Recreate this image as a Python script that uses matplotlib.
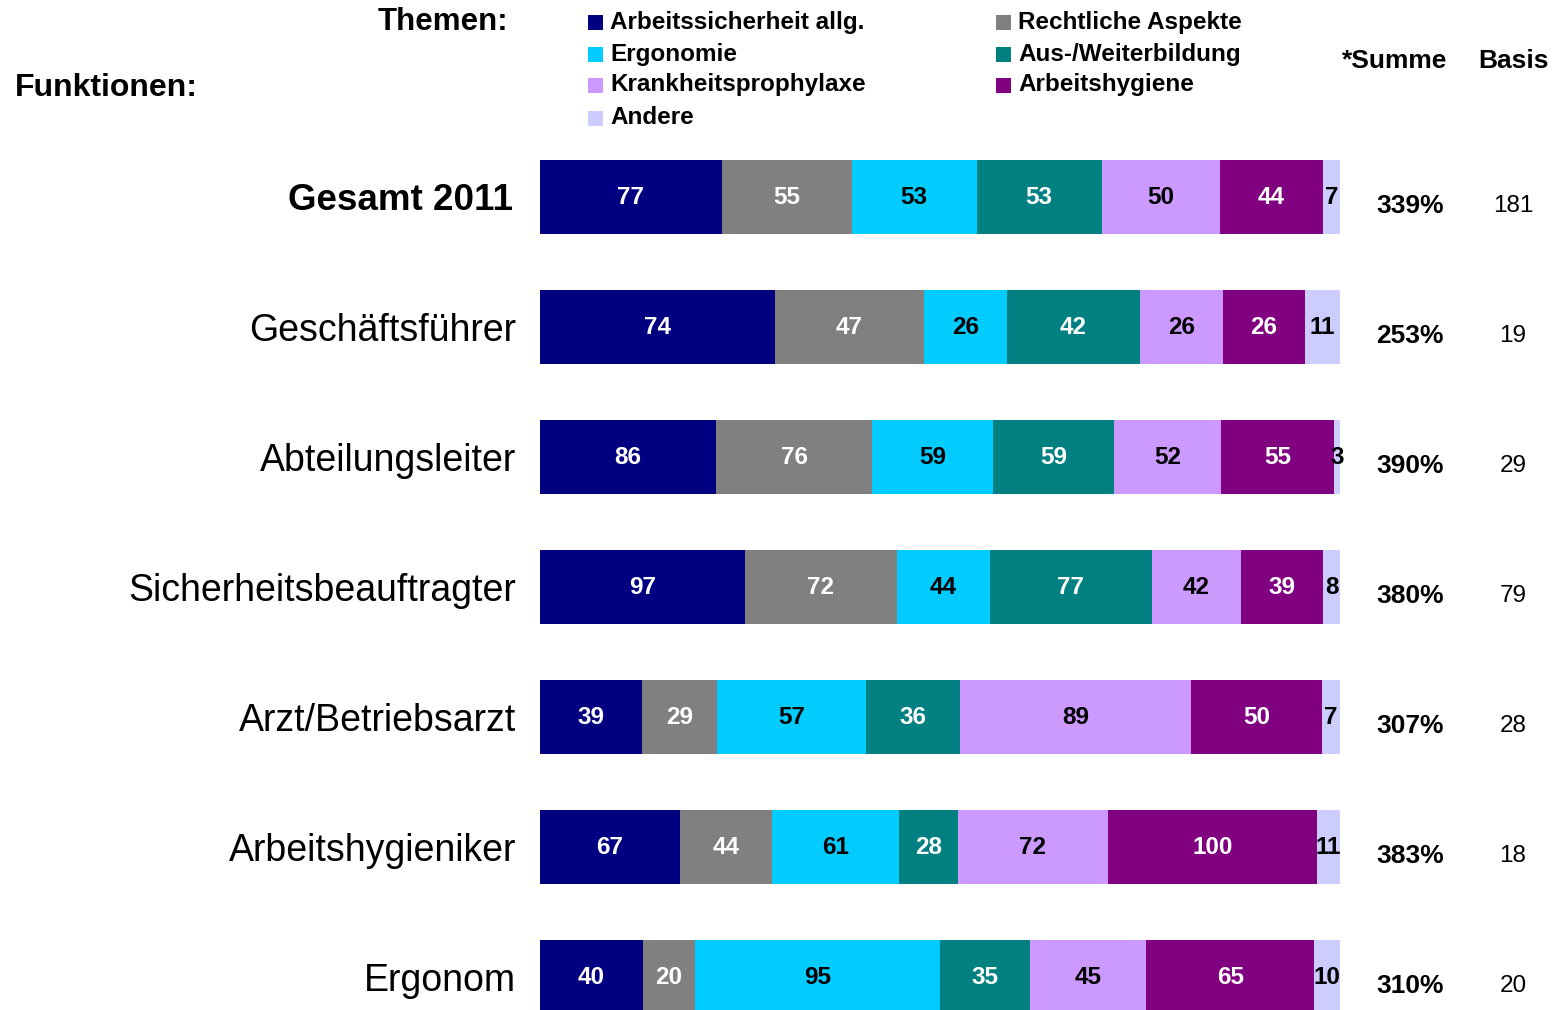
import matplotlib
matplotlib.use("Agg")
import matplotlib.pyplot as plt
import numpy as np
from matplotlib.patches import Rectangle

plt.rcParams['font.family'] = ['Liberation Sans', 'DejaVu Sans']

categories = ["Gesamt 2011", "Geschäftsführer", "Abteilungsleiter", "Sicherheitsbeauftragter",
              "Arzt/Betriebsarzt", "Arbeitshygieniker", "Ergonom"]
series_names = ["Arbeitssicherheit allg.", "Rechtliche Aspekte", "Ergonomie", "Aus-/Weiterbildung",
                "Krankheitsprophylaxe", "Arbeitshygiene", "Andere"]
arbeitssicherheit = [77, 74, 86, 97, 39, 67, 40]
rechtliche = [55, 47, 76, 72, 29, 44, 20]
ergonomie = [53, 26, 59, 44, 57, 61, 95]
weiterbildung = [53, 42, 59, 77, 36, 28, 35]
krankheit = [50, 26, 52, 42, 89, 72, 45]
hygiene = [44, 26, 55, 39, 50, 100, 65]
andere = [7, 11, 3, 8, 7, 11, 10]
summe = ["339%", "253%", "390%", "380%", "307%", "383%", "310%"]
basis = [181, 19, 29, 79, 28, 18, 20]

colors = ["#000080", "#808080", "#00CCFF", "#008080", "#CC99FF", "#800080", "#CCCCFF"]
text_colors = ["white", "white", "black", "white", "black", "white", "black"]

data = np.array([arbeitssicherheit, rechtliche, ergonomie, weiterbildung, krankheit, hygiene, andere], dtype=float)
totals = data.sum(axis=0)
shares = data / totals

W, H = 1562, 1010
fig = plt.figure(figsize=(W / 100, H / 100), dpi=100)
ax = fig.add_axes([540 / W, 0, 800 / W, 1])
row0, step = 197, 130
ax.set_ylim((H - row0) / step, -row0 / step)
ax.set_xlim(0, 1)
ax.axis("off")

y = np.arange(len(categories))
left = np.zeros(len(categories))
for k in range(len(series_names)):
    ax.barh(y, shares[k], left=left, height=0.565, color=colors[k], edgecolor="none")
    for i in range(len(categories)):
        cx = left[i] + shares[k][i] / 2
        ax.text(cx, y[i], str(int(data[k][i])), ha="center", va="center",
                fontsize=17.5, fontweight="bold", color=text_colors[k])
    left += shares[k]

def fy(p):
    return 1 - p / H

for i, c in enumerate(categories):
    p = row0 + step * i
    if i == 0:
        fig.text(513 / W, fy(p + 4), c, ha="right", va="center", fontsize=26.5, fontweight="bold")
    else:
        fig.text(516 / W, fy(p + 4), c, ha="right", va="center", fontsize=27)
    fig.text(1410 / W, fy(p + 9), summe[i], ha="center", va="center", fontsize=19, fontweight="bold")
    fig.text(1513 / W, fy(p + 9), str(basis[i]), ha="center", va="center", fontsize=17.5)

fig.text(508 / W, fy(22), "Themen:", ha="right", va="center", fontsize=22.5, fontweight="bold")
fig.text(15 / W, fy(88), "Funktionen:", ha="left", va="center", fontsize=23, fontweight="bold")
fig.text(1395 / W, fy(61), "*Summe", ha="center", va="center", fontsize=19, fontweight="bold")
fig.text(1513 / W, fy(61), "Basis", ha="center", va="center", fontsize=19, fontweight="bold")

legend_pos = {0: (588, 22), 2: (588, 54), 4: (588, 85), 6: (588, 118),
              1: (996, 22), 3: (996, 54), 5: (996, 85)}
for k, name in enumerate(series_names):
    px, py = legend_pos[k]
    fig.patches.append(Rectangle((px / W, fy(py + 8)), 15 / W, 15 / H, transform=fig.transFigure,
                                 facecolor=colors[k], edgecolor="none"))
    fig.text((px + 22) / W, fy(py), name, ha="left", va="center", fontsize=17.5, fontweight="bold")

fig.savefig("out.png", dpi=100)
